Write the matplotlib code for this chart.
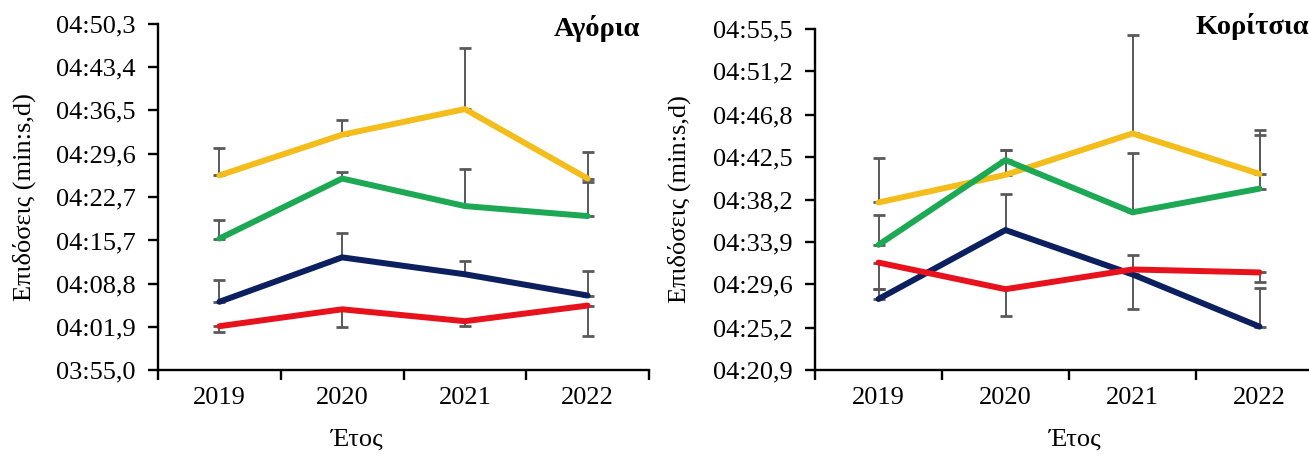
import matplotlib as mpl
mpl.use('Agg')
import matplotlib.pyplot as plt
from matplotlib.ticker import FixedLocator, NullFormatter

plt.rcParams['font.family'] = ['Liberation Serif', 'DejaVu Serif']

years = ['2019', '2020', '2021', '2022']

# Αγόρια (seconds)
boys_yellow = [266.1, 272.6, 276.7, 265.6]
boys_yellow_err = [4.4, 2.4, 9.8, 4.3]
boys_green = [256.0, 265.6, 261.2, 259.6]
boys_green_err = [3.0, 1.1, 5.9, 5.5]
boys_navy = [245.9, 253.0, 250.3, 246.9]
boys_navy_err = [3.5, 3.9, 2.1, 4.0]
boys_red = [242.0, 244.7, 242.8, 245.3]
boys_red_err = [1.0, 2.9, 0.7, 4.8]   # downward
boys_ticks = ['03:55,0', '04:01,9', '04:08,8', '04:15,7', '04:22,7',
              '04:29,6', '04:36,5', '04:43,4', '04:50,3']

# Κορίτσια (seconds)
girls_yellow = [277.9, 280.7, 284.9, 280.8]
girls_yellow_err = [4.5, 2.5, 10.0, 4.5]
girls_green = [273.6, 282.2, 276.9, 279.3]
girls_green_err = [3.0, 1.0, 6.0, 5.4]
girls_navy = [268.1, 275.1, 270.6, 265.3]
girls_navy_err = [1.0, 3.7, 2.0, 3.9]
girls_red = [271.8, 269.1, 271.1, 270.8]
girls_red_err = [2.7, 2.7, 4.0, 1.0]   # downward
girls_ticks = ['04:20,9', '04:25,2', '04:29,6', '04:33,9', '04:38,2',
               '04:42,5', '04:46,8', '04:51,2', '04:55,5']

YELLOW = '#F3BD1C'
GREEN = '#1DA853'
NAVY = '#0C1F5E'
RED = '#E8121C'
ERRC = '#595959'
FS = 19


def to_sec(s):
    m, rest = s.split(':')
    return int(m) * 60 + float(rest.replace(',', '.'))


def draw(ax, series, ticks):
    x = list(range(len(years)))
    for vals, err, col, down in series:
        zeros = [0] * len(err)
        yerr = [err, zeros] if down else [zeros, err]
        ax.errorbar(x, vals, yerr=yerr, color=col, lw=4.3, ecolor=ERRC,
                    elinewidth=1.4, capsize=4.5, capthick=2,
                    solid_capstyle='round', solid_joinstyle='round')
    pos = [to_sec(t) for t in ticks]
    ax.set_ylim(pos[0], pos[-1])
    ax.yaxis.set_major_locator(FixedLocator(pos))
    ax.set_yticklabels(ticks)
    ax.set_xlim(-0.5, len(years) - 0.5)
    ax.set_xticks([i - 0.5 for i in range(len(years) + 1)])
    ax.xaxis.set_major_formatter(NullFormatter())
    ax.set_xticks(x, minor=True)
    ax.set_xticklabels(years, minor=True)
    ax.tick_params(axis='x', which='minor', length=0, pad=12, labelsize=FS)
    ax.tick_params(axis='x', which='major', length=7, width=1.7, direction='out')
    ax.tick_params(axis='y', length=7, width=1.7, direction='out', pad=9,
                   labelsize=FS)
    for side in ['top', 'right']:
        ax.spines[side].set_visible(False)
    for side in ['left', 'bottom']:
        ax.spines[side].set_linewidth(1.7)
    ax.set_ylabel('Επιδόσεις (min:s,d)', fontsize=FS)
    ax.set_xlabel('Έτος', fontsize=FS)
    ax.xaxis.label.set_va('center')


fig = plt.figure(figsize=(13.09, 4.55), dpi=100)
W, H = 1309, 455

ax1 = fig.add_axes([158 / W, (H - 370) / H, 491 / W, 346 / H])
draw(ax1, [(boys_yellow, boys_yellow_err, YELLOW, False),
           (boys_green, boys_green_err, GREEN, False),
           (boys_navy, boys_navy_err, NAVY, False),
           (boys_red, boys_red_err, RED, True)], boys_ticks)
ax1.yaxis.set_label_coords(-0.248, 0.5)
ax1.xaxis.set_label_coords(0.405, -0.202)

ax2 = fig.add_axes([815 / W, (H - 370) / H, 508 / W, 341 / H])
draw(ax2, [(girls_yellow, girls_yellow_err, YELLOW, False),
           (girls_green, girls_green_err, GREEN, False),
           (girls_navy, girls_navy_err, NAVY, False),
           (girls_red, girls_red_err, RED, True)], girls_ticks)
ax2.yaxis.set_label_coords(-0.244, 0.5)
ax2.xaxis.set_label_coords(0.512, -0.205)

fig.text(640 / W, 1 - 28 / H, 'Αγόρια', ha='right', va='center',
         fontsize=20.5, fontweight='bold')
fig.text(1195 / W, 1 - 26 / H, 'Κορίτσια', ha='left', va='center',
         fontsize=20.5, fontweight='bold')

fig.savefig('out.png', dpi=100)
